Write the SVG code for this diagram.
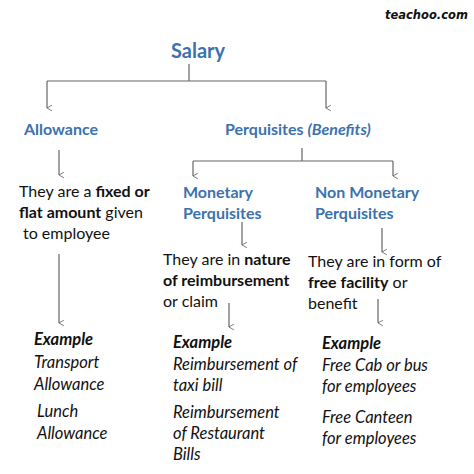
<svg xmlns="http://www.w3.org/2000/svg" width="474" height="474" viewBox="0 0 474 474">
<style>
.t{font-family:Lato,"Open Sans",sans-serif;font-size:16px;fill:#111}
.h{font-family:Lato,"Open Sans",sans-serif;font-weight:bold;fill:#3b72ad;font-size:16px}
.b{font-weight:bold}
.i{font-style:italic}
.e{font-size:16.5px}
.c{stroke:#666;stroke-width:1.2;fill:none}
</style>
<defs>
<marker id="ah" viewBox="0 0 10 10" refX="5" refY="9" markerWidth="7" markerHeight="7" orient="auto-start-reverse" markerUnits="userSpaceOnUse">
<path d="M1,2 L5,9 L9,2" stroke="#666" stroke-width="1.2" fill="none"/>
</marker>
</defs>
<rect width="474" height="474" fill="#fff"/>
<text x="385" y="19" font-family="'DejaVu Sans',sans-serif" font-style="italic" font-weight="bold" font-size="11.5" fill="#111">teachoo.com</text>
<g id="connectors">
<path class="c" d="M189,64 V81"/>
<path class="c" d="M47,81 H326"/>
<path class="c" d="M47,81 V108" marker-end="url(#ah)"/>
<path class="c" d="M326,81 V108" marker-end="url(#ah)"/>
<path class="c" d="M59,150 V175" marker-end="url(#ah)"/>
<path class="c" d="M302,148 V161"/>
<path class="c" d="M193,161 H393"/>
<path class="c" d="M193,161 V176" marker-end="url(#ah)"/>
<path class="c" d="M393,161 V176" marker-end="url(#ah)"/>
<path class="c" d="M242,222 V245" marker-end="url(#ah)"/>
<path class="c" d="M382,228 V252" marker-end="url(#ah)"/>
<path class="c" d="M59,254 V323" marker-end="url(#ah)"/>
<path class="c" d="M229,303 V327" marker-end="url(#ah)"/>
<path class="c" d="M378,299 V323" marker-end="url(#ah)"/>
</g>
<g id="salary"><text class="h" x="171" y="58" style="font-size:20px">Salary</text></g>
<g id="allowance"><text class="h" x="24" y="135">Allowance</text></g>
<g id="perquisites"><text class="h" x="225" y="135">Perquisites <tspan class="i">(Benefits)</tspan></text></g>
<g id="allowance-desc">
<text class="t" x="19" y="197">They are a <tspan class="b">fixed or</tspan></text>
<text class="t" x="19" y="218"><tspan class="b">flat amount</tspan> given</text>
<text class="t" x="23" y="239">to employee</text>
</g>
<g id="monetary">
<text class="h" x="183" y="198">Monetary</text>
<text class="h" x="183" y="219">Perquisites</text>
</g>
<g id="non-monetary">
<text class="h" x="315" y="198">Non Monetary</text>
<text class="h" x="315" y="219">Perquisites</text>
</g>
<g id="monetary-desc">
<text class="t" x="163" y="265">They are in <tspan class="b">nature</tspan></text>
<text class="t" x="163" y="286"><tspan class="b">of reimbursement</tspan></text>
<text class="t" x="163" y="307">or claim</text>
</g>
<g id="non-monetary-desc">
<text class="t" x="308" y="267">They are in form of</text>
<text class="t" x="308" y="288"><tspan class="b">free facility</tspan> or</text>
<text class="t" x="308" y="309">benefit</text>
</g>
<g id="allowance-example">
<text class="t i b e" x="34" y="345">Example</text>
<text class="t i e" x="34" y="368">Transport</text>
<text class="t i e" x="34" y="390">Allowance</text>
<text class="t i e" x="37" y="417">Lunch</text>
<text class="t i e" x="37" y="439">Allowance</text>
</g>
<g id="monetary-example">
<text class="t i b e" x="173" y="348">Example</text>
<text class="t i e" x="173" y="370">Reimbursement of</text>
<text class="t i e" x="173" y="391">taxi bill</text>
<text class="t i e" x="173" y="418">Reimbursement</text>
<text class="t i e" x="173" y="439">of Restaurant</text>
<text class="t i e" x="173" y="460">Bills</text>
</g>
<g id="non-monetary-example">
<text class="t i b e" x="322" y="349">Example</text>
<text class="t i e" x="322" y="371">Free Cab or bus</text>
<text class="t i e" x="322" y="392">for employees</text>
<text class="t i e" x="322" y="423">Free Canteen</text>
<text class="t i e" x="322" y="444">for employees</text>
</g>
</svg>
